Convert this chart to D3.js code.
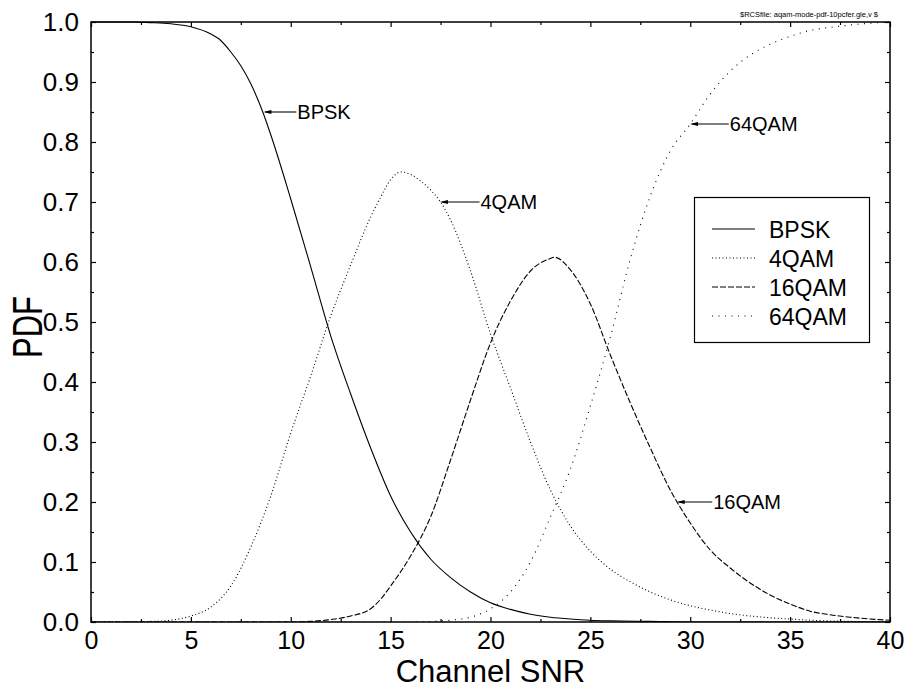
<!DOCTYPE html>
<html>
<head>
<meta charset="utf-8">
<script src="https://cdn.jsdelivr.net/npm/d3@7"></script>
<style>
  html, body { margin: 0; padding: 0; background: #fff; }
  svg { display: block; font-family: Arial, "Liberation Sans", Helvetica, sans-serif; }
</style>
</head>
<body>
<svg id="chart" width="907" height="689"></svg>
<script>
// ---- Data ----
const bpskX = [0, 1, 2, 3, 4, 5, 6, 6.4, 7, 7.5, 8, 8.6, 9, 10, 11, 12, 13, 14, 15, 16, 17, 18, 19, 20, 21, 22, 23, 24, 25, 26, 28, 30, 35, 40];
const bpskY = [1.0, 1.0, 1.0, 0.999, 0.997, 0.992, 0.98, 0.972, 0.95, 0.927, 0.897, 0.85, 0.812, 0.705, 0.592, 0.477, 0.38, 0.29, 0.21, 0.15, 0.105, 0.074, 0.05, 0.032, 0.021, 0.013, 0.008, 0.005, 0.003, 0.002, 0.001, 0.0, 0.0, 0.0];

const qam4X = [0, 3, 4, 5, 6, 7, 8, 9, 10, 11, 12, 13, 14, 14.5, 15, 15.5, 16, 16.5, 17, 17.5, 18, 19, 20, 21, 22, 23, 24, 25, 26, 27, 28, 29, 30, 31, 32, 33, 34, 35, 36, 38, 40];
const qam4Y = [0, 0.001, 0.003, 0.01, 0.025, 0.06, 0.125, 0.21, 0.315, 0.41, 0.51, 0.595, 0.675, 0.708, 0.737, 0.75, 0.746, 0.735, 0.72, 0.70, 0.67, 0.585, 0.48, 0.39, 0.30, 0.22, 0.16, 0.118, 0.088, 0.067, 0.05, 0.037, 0.027, 0.02, 0.014, 0.01, 0.007, 0.005, 0.003, 0.001, 0.0];

const qam16X = [0, 10, 11, 12, 13, 14, 14.5, 15, 16, 17, 18, 19, 20, 21, 22, 23, 23.2, 24, 25, 26, 27, 28, 29, 30, 31, 32, 33, 34, 35, 36, 37, 38, 39, 40];
const qam16Y = [0, 0, 0.001, 0.004, 0.01, 0.022, 0.038, 0.06, 0.11, 0.175, 0.27, 0.37, 0.465, 0.535, 0.585, 0.606, 0.608, 0.587, 0.53, 0.445, 0.365, 0.29, 0.22, 0.165, 0.12, 0.09, 0.065, 0.045, 0.03, 0.018, 0.012, 0.008, 0.005, 0.003];

const qam64X = [0, 16, 17, 18, 19, 20, 21, 22, 23, 24, 25, 26, 27, 28, 29, 30, 31, 32, 33, 34, 35, 36, 37, 38, 39, 40];
const qam64Y = [0, 0, 0.001, 0.003, 0.008, 0.022, 0.05, 0.1, 0.175, 0.255, 0.36, 0.475, 0.605, 0.71, 0.785, 0.83, 0.88, 0.918, 0.945, 0.963, 0.976, 0.986, 0.991, 0.995, 0.998, 1.0];

const seriesNames = ["BPSK", "4QAM", "16QAM", "64QAM"];
const xTickValues = [0, 5, 10, 15, 20, 25, 30, 35, 40];
const xMinorValues = [2.5, 7.5, 12.5, 17.5, 22.5, 27.5, 32.5, 37.5];
const yTickValues = [0, 0.1, 0.2, 0.3, 0.4, 0.5, 0.6, 0.7, 0.8, 0.9, 1.0];
const yMinorValues = [0.05, 0.15, 0.25, 0.35, 0.45, 0.55, 0.65, 0.75, 0.85, 0.95];

// annotation: label, tip (x, y), label start x
const annoLabels = ["BPSK", "4QAM", "16QAM", "64QAM"];
const annoTipX = [8.63, 17.47, 29.32, 29.99];
const annoTipY = [0.85, 0.70, 0.20, 0.83];
const annoTextX = [10.33, 19.5, 31.15, 31.98];

const xLabel = "Channel SNR";
const yLabel = "PDF";
const rcsText = "$RCSfile: aqam-mode-pdf-10pcfer.gle,v $";

// ---- Layout ----
const svg = d3.select("#chart");
const L = 91, R = 890, T = 22, B = 622;
const x = d3.scaleLinear().domain([0, 40]).range([L, R]);
const y = d3.scaleLinear().domain([0, 1]).range([B, T]);

const styles = {
  "BPSK": null,
  "4QAM": "1,2.5",
  "16QAM": "6,2",
  "64QAM": "1,5.5"
};

const series = [
  { name: "BPSK", xs: bpskX, ys: bpskY },
  { name: "4QAM", xs: qam4X, ys: qam4Y },
  { name: "16QAM", xs: qam16X, ys: qam16Y },
  { name: "64QAM", xs: qam64X, ys: qam64Y }
];

const line = d3.line().x(d => x(d[0])).y(d => y(d[1])).curve(d3.curveMonotoneX);

const plot = svg.append("g");
plot.append("defs").append("clipPath").attr("id", "clip")
  .append("rect").attr("x", L).attr("y", T - 2).attr("width", R - L).attr("height", B - T + 2);

series.forEach(s => {
  const pts = s.xs.map((v, i) => [v, s.ys[i]]);
  plot.append("path")
    .attr("d", line(pts))
    .attr("fill", "none")
    .attr("stroke", "#000")
    .attr("stroke-width", 1.1)
    .attr("stroke-dasharray", styles[s.name])
    .attr("clip-path", "url(#clip)");
});

// ---- Axes ----
const fontTick = 25;
function styleAxis(g) {
  g.select(".domain").remove();
  g.selectAll(".tick line").attr("stroke", "#000").attr("stroke-width", 1.2);
}
svg.append("g").attr("transform", `translate(0,${B})`)
  .call(d3.axisBottom(x).tickValues(xTickValues).tickSize(-5).tickPadding(9).tickFormat(d3.format("d")))
  .call(styleAxis)
  .call(g => g.selectAll("text").attr("font-size", fontTick).attr("fill", "#000").attr("font-family", "Arial, Liberation Sans, sans-serif"));
svg.append("g").attr("transform", `translate(0,${B})`)
  .call(d3.axisBottom(x).tickValues(xMinorValues).tickSize(-3).tickFormat(""))
  .call(styleAxis);
svg.append("g").attr("transform", `translate(0,${T})`)
  .call(d3.axisTop(x).tickValues(xTickValues).tickSize(-5).tickFormat(""))
  .call(styleAxis);
svg.append("g").attr("transform", `translate(0,${T})`)
  .call(d3.axisTop(x).tickValues(xMinorValues).tickSize(-3).tickFormat(""))
  .call(styleAxis);

svg.append("g").attr("transform", `translate(${L},0)`)
  .call(d3.axisLeft(y).tickValues(yTickValues).tickSize(-5).tickPadding(12).tickFormat(d3.format(".1f")))
  .call(styleAxis)
  .call(g => g.selectAll("text").attr("font-size", 26).attr("fill", "#000").attr("font-family", "Arial, Liberation Sans, sans-serif"));
svg.append("g").attr("transform", `translate(${L},0)`)
  .call(d3.axisLeft(y).tickValues(yMinorValues).tickSize(-3).tickFormat(""))
  .call(styleAxis);
svg.append("g").attr("transform", `translate(${R},0)`)
  .call(d3.axisRight(y).tickValues(yTickValues).tickSize(-5).tickFormat(""))
  .call(styleAxis);
svg.append("g").attr("transform", `translate(${R},0)`)
  .call(d3.axisRight(y).tickValues(yMinorValues).tickSize(-3).tickFormat(""))
  .call(styleAxis);

// frame
svg.append("rect").attr("x", L).attr("y", T).attr("width", R - L).attr("height", B - T)
  .attr("fill", "none").attr("stroke", "#000").attr("stroke-width", 1.5);

// axis titles
svg.append("text").attr("x", (L + R) / 2).attr("y", 682.4).attr("text-anchor", "middle")
  .attr("font-size", 31).attr("fill", "#000").text(xLabel);
svg.append("text").attr("transform", `translate(42,${(T + B) / 2 + 5}) rotate(-90) scale(0.72,1)`).attr("text-anchor", "middle")
  .attr("font-size", 43).attr("fill", "#000").text(yLabel);

// RCS label
svg.append("text").attr("x", 878).attr("y", 17).attr("text-anchor", "end")
  .attr("font-size", 7.5).attr("fill", "#000").text(rcsText);

// ---- Annotations ----
annoLabels.forEach((lab, i) => {
  const tx = x(annoTipX[i]), ty = y(annoTipY[i]), lx = x(annoTextX[i]);
  svg.append("line").attr("x1", tx + 2).attr("y1", ty).attr("x2", lx - 1).attr("y2", ty)
    .attr("stroke", "#000").attr("stroke-width", 1.1);
  svg.append("path")
    .attr("d", `M${tx},${ty} L${tx + 8},${ty - 2} L${tx + 8},${ty + 2} Z`)
    .attr("fill", "#000");
  svg.append("text").attr("x", lx).attr("y", ty + 7).attr("font-size", 20).attr("fill", "#000").text(lab);
});

// ---- Legend ----
const lg = svg.append("g");
lg.append("rect").attr("x", 694.5).attr("y", 197.5).attr("width", 175).attr("height", 145)
  .attr("fill", "#fff").attr("stroke", "#000").attr("stroke-width", 1.2);
const legRowY = d3.scalePoint().domain(seriesNames).range([229, 316]);
seriesNames.forEach(n => {
  const yy = legRowY(n);
  lg.append("line").attr("x1", 712).attr("x2", 755).attr("y1", yy).attr("y2", yy)
    .attr("stroke", "#000").attr("stroke-width", 1.1).attr("stroke-dasharray", styles[n]);
  lg.append("text").attr("x", 769).attr("y", yy + 8.5).attr("font-size", 23).attr("fill", "#000").text(n);
});
</script>
</body>
</html>
